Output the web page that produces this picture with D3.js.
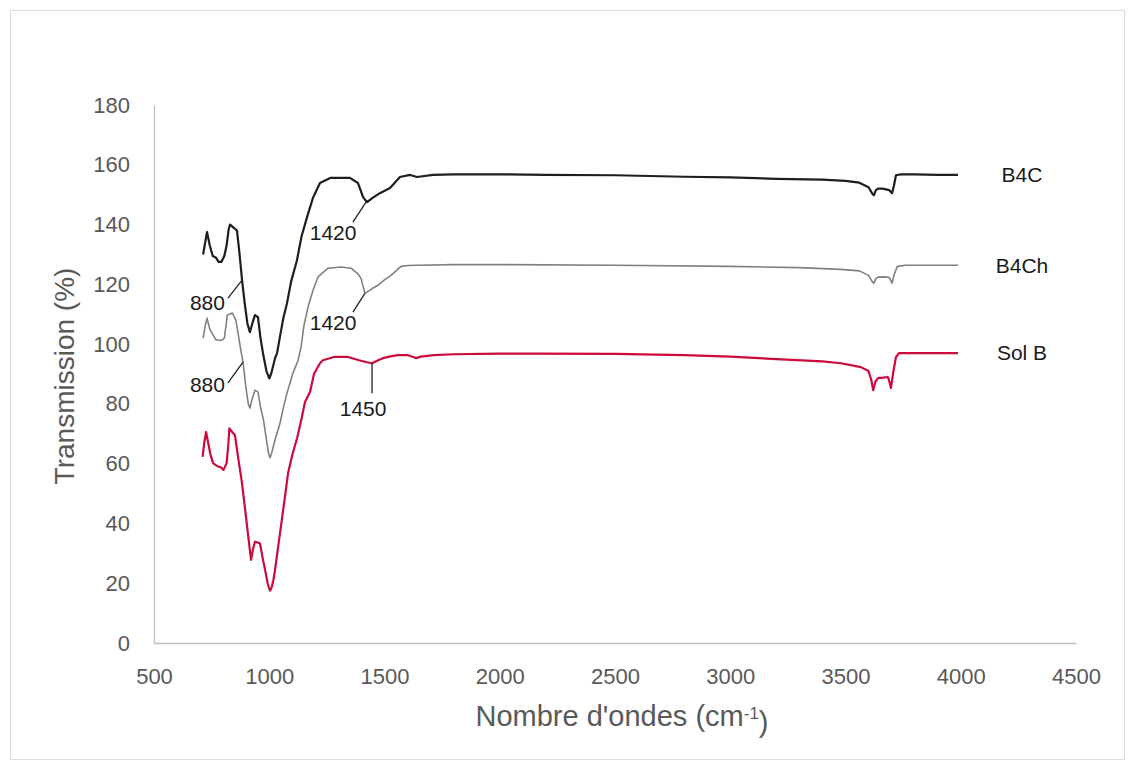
<!DOCTYPE html>
<html><head><meta charset="utf-8">
<script src="https://cdn.jsdelivr.net/npm/d3@7"></script>
<style>
body{margin:0;background:#fff;}
text{font-family:"Liberation Sans", Arial, sans-serif;}
</style></head><body><div id="chart"></div>
<script>
// spectra: [wavenumber cm-1, transmission %]
const b4c = [[713,130],[722,134],[730,137.5],[742,133],[755,129.5],[768,129],[780,127.5],[792,127.5],[805,129.5],[815,133],[824,138.5],[830,140],[845,139],[860,138],[870,131],[882,121.4],[893,114],[905,107],[916,104],[927,107],[938,109.7],[951,109],[962,102],[975,96],[988,91],[1000,88.5],[1008,90],[1018,93],[1025,95.3],[1034,97],[1050,104],[1062,109],[1077,113.7],[1095,121],[1120,128],[1140,136],[1164,142.5],[1190,149],[1220,153.9],[1264,155.6],[1350,155.6],[1385,153.9],[1407,149.2],[1424,147.5],[1450,149],[1480,150.5],[1524,152.2],[1567,155.9],[1611,156.6],[1641,155.9],[1710,156.6],[1800,156.8],[2000,156.8],[2200,156.6],[2500,156.5],[2800,156],[3000,155.8],[3200,155.3],[3400,155],[3500,154.6],[3560,154],[3600,152.5],[3615,150.5],[3623,149.8],[3632,151.5],[3641,152],[3660,152],[3690,151.5],[3702,150.5],[3710,153],[3719,156.5],[3740,156.8],[3800,156.8],[3900,156.6],[3988,156.6]];
const b4ch = [[713,102],[722,106],[730,108.7],[742,105],[757,103],[768,101.5],[780,101.3],[795,101.3],[805,102],[812,106],[818,109.7],[840,110.4],[855,108],[864,104],[873,99.7],[886,94],[898,86],[909,80],[916,78.6],[927,82],[938,84.6],[951,84],[962,79],[975,74.6],[988,68],[997,63.5],[1003,62],[1012,64],[1025,67.9],[1047,73.6],[1062,79],[1077,83.6],[1103,90.3],[1125,94.6],[1138,99],[1150,106],[1168,112.4],[1190,118],[1211,122.4],[1255,125.4],[1311,125.8],[1355,125.4],[1385,123.5],[1398,122],[1415,117],[1445,118.5],[1472,119.7],[1500,121.5],[1528,123],[1550,124.5],[1572,126],[1600,126.3],[1645,126.4],[1800,126.6],[2000,126.6],[2500,126.4],[3000,126],[3300,125.6],[3480,125],[3560,124.5],[3600,123],[3615,121],[3623,120.4],[3632,122],[3641,122.4],[3670,122.5],[3690,122.3],[3702,120.4],[3712,123.5],[3725,126],[3760,126.4],[3900,126.4],[3988,126.4]];
const solB = [[711,62.3],[718,67],[726,70.6],[735,67],[745,63],[757,60.1],[768,59.5],[779,59],[790,58.8],[801,57.9],[815,60.1],[822,66],[827,71.8],[840,70.5],[851,69.6],[865,62],[880,54.5],[895,45],[909,35.6],[921,27.8],[930,31.5],[938,33.9],[950,33.6],[960,33.3],[970,29],[982,24.4],[993,20],[1003,17.5],[1010,18.5],[1018,21],[1025,24.4],[1040,33],[1056,42],[1070,50],[1082,57],[1100,63],[1121,68.6],[1140,75],[1155,80.6],[1177,84],[1194,90],[1220,93.6],[1233,94.6],[1281,95.7],[1342,95.7],[1389,94.6],[1420,94],[1446,93.6],[1470,94.5],[1493,95.3],[1530,96],[1559,96.3],[1602,96.3],[1625,95.7],[1637,95.3],[1658,95.8],[1715,96.3],[1800,96.6],[2000,96.8],[2149,96.8],[2500,96.7],[2800,96.3],[3000,95.8],[3200,95],[3400,94.2],[3480,93.6],[3567,92.3],[3600,91],[3612,88],[3620,84.6],[3630,87.5],[3641,88.6],[3665,88.8],[3684,89],[3692,87],[3697,85.3],[3708,91],[3719,95.7],[3732,97],[3800,97],[3900,97],[3988,97]];

const seriesNames = ['B4C', 'B4Ch', 'Sol B'];
const seriesData = [b4c, b4ch, solB];
const seriesColors = ['#1e1e1e', '#808080', '#cc0a3c'];
const seriesWidths = [2.2, 1.6, 2.2];

const xTicks = [500, 1000, 1500, 2000, 2500, 3000, 3500, 4000, 4500];
const yTicks = [0, 20, 40, 60, 80, 100, 120, 140, 160, 180];

// peak labels: text, point on curve, end of leader, label centre (all in data units)
const peakLabels = [
  { text: '1420', tip: [1424, 148], tail: [1363, 140.8], at: [1277, 137.3] },
  { text: '1420', tip: [1415, 117], tail: [1363, 110.7], at: [1277, 107.2] },
  { text: '880', tip: [882, 121.4], tail: [821, 115.4], at: [732, 113.8] },
  { text: '880', tip: [886, 94], tail: [821, 87], at: [732, 86.3] },
  { text: '1450', tip: [1446, 93.6], tail: [1446, 83.6], at: [1407, 78.4] }
];

const W = 1135, H = 766;
const svg = d3.select('#chart').append('svg').attr('width', W).attr('height', H);
svg.append('rect').attr('width', W).attr('height', H).attr('fill', '#fff');
svg.append('rect').attr('x', 10.5).attr('y', 10.5).attr('width', 1114).attr('height', 749)
  .attr('fill', 'none').attr('stroke', '#dcdcdc');

const x = d3.scaleLinear().domain([500, 4500]).range([154, 1076]);
const y = d3.scaleLinear().domain([0, 180]).range([643, 105]);

const gx = svg.append('g').attr('transform', `translate(0,${y(0)})`)
  .call(d3.axisBottom(x).tickValues(xTicks).tickSize(0).tickPadding(25).tickSizeOuter(0).tickFormat(d3.format('d')));
const gy = svg.append('g').attr('transform', `translate(${x(500)},0)`)
  .call(d3.axisLeft(y).tickValues(yTicks).tickSize(0).tickPadding(24).tickSizeOuter(0));
[gx, gy].forEach(g => {
  g.select('.domain').attr('stroke', '#bfbfbf').attr('stroke-width', 1.3);
  g.selectAll('text').attr('fill', '#595959').style('font-size', '22px')
    .style('font-family', '"Liberation Sans", Arial, sans-serif');
});

const line = d3.line().x(d => x(d[0])).y(d => y(d[1]));
seriesData.forEach((s, i) => {
  svg.append('path').datum(s).attr('d', line).attr('fill', 'none')
    .attr('stroke', seriesColors[i]).attr('stroke-width', seriesWidths[i]).attr('stroke-linejoin', 'round');
  const last = s[s.length - 1];
  svg.append('text').attr('x', 1022).attr('y', y(last[1])).attr('dy', '0.35em')
    .attr('text-anchor', 'middle').attr('fill', '#1a1a1a').style('font-size', '21px').text(seriesNames[i]);
});

peakLabels.forEach(p => {
  svg.append('line').attr('x1', x(p.tip[0])).attr('y1', y(p.tip[1]))
    .attr('x2', x(p.tail[0])).attr('y2', y(p.tail[1])).attr('stroke', '#222').attr('stroke-width', 1.3);
  svg.append('text').attr('x', x(p.at[0])).attr('y', y(p.at[1])).attr('dy', '0.35em')
    .attr('text-anchor', 'middle').attr('fill', '#1a1a1a').style('font-size', '21px').text(p.text);
});

svg.append('text').attr('transform', 'translate(64,376) rotate(-90)').attr('text-anchor', 'middle')
  .attr('dy', '0.35em').attr('fill', '#595959').style('font-size', '28px').text('Transmission (%)');
const xt = svg.append('text').attr('x', 622).attr('y', 716).attr('dy', '0.35em').attr('text-anchor', 'middle')
  .attr('fill', '#595959').style('font-size', '29px');
xt.append('tspan').text("Nombre d'ondes (cm");
xt.append('tspan').attr('dy', '-0.45em').style('font-size', '17px').text('-1');
xt.append('tspan').attr('dy', '0.45em').text(')');
</script></body></html>
